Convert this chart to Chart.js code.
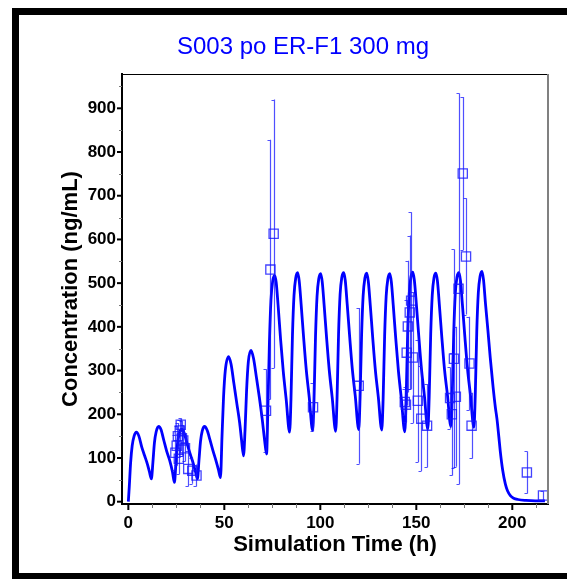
<!DOCTYPE html>
<html><head><meta charset="utf-8">
<script src="https://cdn.jsdelivr.net/npm/chart.js@4.4.0/dist/chart.umd.min.js"></script>
<style>
html,body{margin:0;padding:0;background:#fff;overflow:hidden;width:567px;height:579px;}
#wrap{position:relative;width:567px;height:579px;}
#frame{position:absolute;left:12px;top:8px;width:640px;height:572px;border:7px solid #000;box-sizing:border-box;pointer-events:none;}
canvas{position:absolute;left:0;top:0;}
</style></head><body>
<div id="wrap"><canvas id="c" width="567" height="579"></canvas><div id="frame"></div></div>
<script>
const titleText = 'S003 po ER-F1 300 mg';
const xAxisTitle = 'Simulation Time (h)';
const yAxisTitle = 'Concentration (ng/mL)';
const xTickLabels = [0, 50, 100, 150, 200];
const xMinorTicks = [12.5, 25, 37.5, 62.5, 75, 87.5, 112.5, 125, 137.5, 162.5, 175, 187.5, 212.5];
const yTickLabels = [0, 100, 200, 300, 400, 500, 600, 700, 800, 900];
const yMinorTicks = [50, 150, 250, 350, 450, 550, 650, 750, 850, 950];

// simulated concentration-time profile (h, ng/mL)
const simTime = [
  0, 0.5, 1.2, 2, 3, 4.2, 5.5, 7, 8.5, 10, 11, 12,
  12.8, 13.6, 14.5, 15.8, 17, 18.5, 20, 21.5, 23, 24,
  24.8, 25.6, 26.5, 27.8, 29, 30.5, 32, 33.5, 35, 36,
  36.8, 37.6, 38.5, 39.7, 41, 42.5, 44, 45.5, 47, 48,
  48.8, 49.6, 50.5, 52.2, 53.5, 55, 56.5, 58, 59, 60,
  60.8, 61.6, 62.5, 63.9, 65.2, 66.7, 68.2, 69.7, 71, 72,
  72.7, 73.5, 74.3, 75.2, 76.2, 77, 78, 79.3, 80.7, 82.2, 84,
  84.7, 85.5, 86.3, 87.2, 88.2, 89, 90, 91.3, 92.7, 94.2, 96,
  96.7, 97.5, 98.3, 99.2, 100.2, 101, 102, 103.3, 104.7, 106.2, 108,
  108.7, 109.5, 110.3, 111.2, 112.2, 113, 114, 115.3, 116.7, 118.2, 120,
  120.7, 121.5, 122.3, 123.2, 124.2, 125, 126, 127.3, 128.7, 130.2, 132,
  132.7, 133.5, 134.3, 135.2, 136.2, 137, 138, 139.3, 140.7, 142.2, 144,
  144.7, 145.5, 146.3, 147.2, 148.2, 149, 150, 151.3, 152.7, 154.2, 156,
  156.7, 157.5, 158.3, 159.2, 160.2, 161, 162, 163.3, 164.7, 166.2, 168,
  168.7, 169.5, 170.3, 171.2, 172.2, 173, 174, 175.3, 176.7, 178.2, 180,
  180.7, 181.5, 182.3, 183.2, 184.2, 185, 186, 187.3, 188.5, 190, 191.2, 192, 193, 193.7, 195, 196.4, 197.5, 199, 200.7, 203, 207, 212, 217
];
const simConc = [
  0, 35, 90, 128, 150, 159, 150, 125, 105, 85, 68, 52,
  90, 135, 160, 172, 165, 140, 115, 95, 68, 44,
  88, 132, 155, 166, 158, 135, 112, 92, 68, 52,
  95, 138, 162, 172, 164, 142, 118, 96, 72, 55,
  150, 240, 300, 332, 315, 270, 225, 180, 140, 105,
  165, 255, 320, 346, 328, 285, 240, 190, 140, 109,
  215, 365, 462, 505, 518, 502, 450, 372, 298, 235, 159,
  232, 382, 472, 512, 524, 505, 452, 376, 301, 240, 163,
  230, 378, 470, 510, 522, 503, 449, 373, 299, 238, 161,
  234, 383, 474, 513, 524, 506, 452, 377, 302, 242, 165,
  236, 381, 471, 511, 523, 504, 451, 375, 300, 240, 164,
  232, 379, 470, 510, 522, 503, 449, 373, 298, 236, 160,
  235, 384, 475, 514, 525, 506, 453, 378, 303, 243, 166,
  238, 383, 472, 512, 523, 505, 451, 376, 302, 245, 172,
  240, 386, 476, 514, 524, 506, 452, 377, 303, 244, 170,
  242, 390, 478, 515, 527, 508, 455, 392, 330, 262, 215, 190, 148, 117, 72, 40, 25, 14, 8, 5, 3, 2, 2
];

// observed data: mean and SD
const obsTime = [24.5, 25.2, 25.8, 26.3, 26.8, 27.3, 27.9, 28.6, 29.5, 31.2, 33.3, 35.5, 71.7, 74.0, 75.7, 96.2, 120.0, 144.0, 144.6, 145.0, 145.6, 146.6, 147.3, 148.2, 150.8, 152.6, 155.6, 167.6, 168.5, 169.6, 170.6, 172.0, 174.2, 175.9, 177.7, 178.8, 207.6, 216.0];
const obsConc = [112, 128, 150, 98, 163, 176, 145, 140, 122, 75, 71, 60, 208, 531, 613, 216, 265, 228, 222, 341, 401, 433, 460, 330, 231, 190, 174, 237, 200, 327, 240, 487, 751, 561, 316, 174, 67, 14];
const obsSD   = [40, 45, 30, 35, 25, 15, 40, 35, 30, 40, 30, 25, 95, 297, 307, 55, 178, 30, 40, 120, 150, 176, 202, 150, 140, 120, 95, 70, 140, 250, 160, 447, 175, 133, 107, 75, 48, 10];

const FONT = "'Liberation Sans', Arial, Helvetica, sans-serif";
const BLUE = '#0000ff';

const simPoints = simTime.map((t, i) => ({x: t, y: simConc[i]}));
const obsPoints = obsTime.map((t, i) => ({x: t, y: obsConc[i]}));

const errorBars = {
  id: 'errorBars',
  afterDatasetDraw(chart, args) {
    if (args.index !== 1) return;
    const {ctx, chartArea: a, scales: {x, y}} = chart;
    ctx.save();
    ctx.beginPath(); ctx.rect(a.left, a.top, a.right - a.left, a.bottom - a.top); ctx.clip();
    ctx.strokeStyle = 'rgba(20,20,255,0.75)';
    ctx.lineWidth = 1.2;
    obsTime.forEach((t, i) => {
      const px = Math.round(x.getPixelForValue(t)) + 0.5;
      const top = y.getPixelForValue(obsConc[i] + obsSD[i]);
      const bot = y.getPixelForValue(Math.max(obsConc[i] - obsSD[i], 0));
      ctx.beginPath();
      ctx.moveTo(px, top); ctx.lineTo(px, bot);
      ctx.moveTo(px - 3, Math.round(top) + 0.5); ctx.lineTo(px, Math.round(top) + 0.5);
      ctx.moveTo(px - 3, Math.round(bot) + 0.5); ctx.lineTo(px, Math.round(bot) + 0.5);
      ctx.stroke();
    });
    ctx.restore();
  }
};

const frameAndTicks = {
  id: 'frameAndTicks',
  afterDraw(chart) {
    const {ctx, chartArea: a, scales: {x, y}} = chart;
    ctx.save();
    ctx.strokeStyle = '#000'; ctx.lineWidth = 1;
    ctx.beginPath(); ctx.moveTo(a.left, a.top + 0.5); ctx.lineTo(a.right, a.top + 0.5); ctx.stroke();
    ctx.strokeStyle = '#808080'; ctx.lineWidth = 2;
    ctx.beginPath(); ctx.moveTo(a.right, a.top); ctx.lineTo(a.right, a.bottom); ctx.stroke();
    ctx.strokeStyle = '#000'; ctx.lineWidth = 2;
    xTickLabels.forEach(v => { const p = x.getPixelForValue(v); ctx.beginPath(); ctx.moveTo(p, a.bottom); ctx.lineTo(p, a.bottom + 6); ctx.stroke(); });
    yTickLabels.forEach(v => { const p = y.getPixelForValue(v); ctx.beginPath(); ctx.moveTo(a.left, p); ctx.lineTo(a.left - 5, p); ctx.stroke(); });
    ctx.strokeStyle = '#777'; ctx.lineWidth = 1;
    xMinorTicks.forEach(v => { const p = Math.round(x.getPixelForValue(v)) + 0.5; ctx.beginPath(); ctx.moveTo(p, a.bottom); ctx.lineTo(p, a.bottom + 4); ctx.stroke(); });
    yMinorTicks.forEach(v => { const p = Math.round(y.getPixelForValue(v)) + 0.5; ctx.beginPath(); ctx.moveTo(a.left, p); ctx.lineTo(a.left - 3, p); ctx.stroke(); });
    ctx.fillStyle = BLUE;
    ctx.font = '24px ' + FONT;
    ctx.textAlign = 'center'; ctx.textBaseline = 'middle';
    ctx.fillText(titleText, 303, 47);
    ctx.restore();
  }
};

new Chart(document.getElementById('c'), {
  type: 'scatter',
  data: {
    datasets: [
      {
        label: 'Observed',
        data: obsPoints,
        showLine: false,
        pointStyle: 'rect',
        pointRadius: 6.5,
        pointBorderWidth: 1.3,
        pointBackgroundColor: 'rgba(0,0,0,0)',
        pointBorderColor: 'rgba(20,20,255,0.8)'
      },
      {
        label: 'Simulated',
        data: simPoints,
        showLine: true,
        borderColor: BLUE,
        borderWidth: 2.8,
        pointRadius: 0,
        cubicInterpolationMode: 'monotone',
        fill: false
      }
    ]
  },
  options: {
    responsive: false,
    animation: false,
    layout: { padding: { top: 74, right: 19, left: 0, bottom: 0 } },
    plugins: { legend: { display: false }, tooltip: { enabled: false }, title: { display: false } },
    scales: {
      x: {
        type: 'linear', min: -3.3, max: 218.6,
        afterBuildTicks: s => { s.ticks = xTickLabels.map(v => ({value: v})); },
        afterFit: s => { s.height = 75; },
        grid: { display: false, drawTicks: false },
        border: { display: true, color: '#000', width: 2 },
        ticks: { color: '#000', padding: 9, maxRotation: 0, font: { family: FONT, size: 17, weight: 'bold' } },
        title: { display: true, text: xAxisTitle, color: '#000', padding: { top: 0, bottom: 21 }, font: { family: FONT, size: 22, weight: 'bold' } }
      },
      y: {
        type: 'linear', min: -5.3, max: 978.5,
        afterBuildTicks: s => { s.ticks = yTickLabels.map(v => ({value: v})); },
        afterFit: s => { s.width = 122; },
        grid: { display: false, drawTicks: false },
        border: { display: true, color: '#000', width: 2 },
        ticks: { color: '#000', padding: 6, font: { family: FONT, size: 17, weight: 'bold' } },
        title: { display: true, text: yAxisTitle, color: '#000', padding: { top: 58, bottom: 0 }, font: { family: FONT, size: 22, weight: 'bold' } }
      }
    }
  },
  plugins: [errorBars, frameAndTicks]
});
</script>
</body></html>
